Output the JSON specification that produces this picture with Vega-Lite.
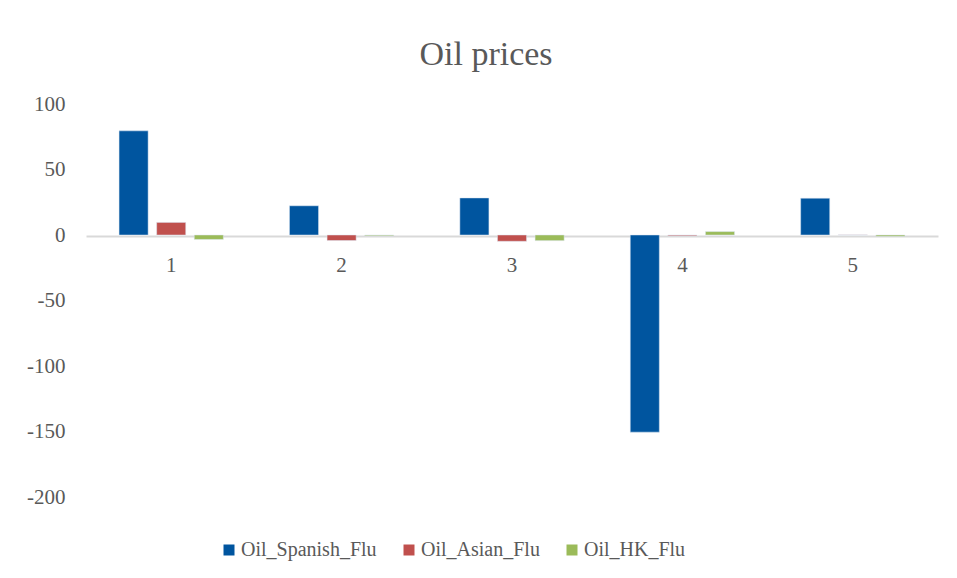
{
  "$schema": "https://vega.github.io/schema/vega-lite/v6.json",
  "autosize": "none",
  "width": 852,
  "height": 393,
  "padding": {"left": 86, "top": 104, "right": 19, "bottom": 81},
  "background": "white",
  "title": {
    "text": "Oil prices",
    "font": "Liberation Serif",
    "fontSize": 34,
    "fontWeight": "normal",
    "color": "#595959",
    "anchor": "middle",
    "baseline": "alphabetic",
    "offset": -6,
    "dx": -26
  },
  "data": {
    "values": [
      {"period": "1", "series": "Oil_Spanish_Flu", "value": 79.5},
      {"period": "1", "series": "Oil_Asian_Flu", "value": 9.6},
      {"period": "1", "series": "Oil_HK_Flu", "value": -3.4},
      {"period": "2", "series": "Oil_Spanish_Flu", "value": 22.3},
      {"period": "2", "series": "Oil_Asian_Flu", "value": -4.2},
      {"period": "2", "series": "Oil_HK_Flu", "value": -0.6},
      {"period": "3", "series": "Oil_Spanish_Flu", "value": 28.3},
      {"period": "3", "series": "Oil_Asian_Flu", "value": -4.8},
      {"period": "3", "series": "Oil_HK_Flu", "value": -4.3},
      {"period": "4", "series": "Oil_Spanish_Flu", "value": -150.5},
      {"period": "4", "series": "Oil_Asian_Flu", "value": -0.6},
      {"period": "4", "series": "Oil_HK_Flu", "value": 2.6},
      {"period": "5", "series": "Oil_Spanish_Flu", "value": 28.1},
      {"period": "5", "series": "Oil_Asian_Flu", "value": 0.1},
      {"period": "5", "series": "Oil_HK_Flu", "value": -1.0}
    ]
  },
  "layer": [
    {
      "mark": {"type": "bar", "stroke": "#dce6f2", "strokeWidth": 0.5},
      "encoding": {
        "x": {
          "field": "period",
          "type": "ordinal",
          "scale": {"paddingInner": 0.388, "paddingOuter": 0.194},
          "axis": {
            "title": null,
            "labelAngle": 0,
            "ticks": false,
            "offset": -261,
            "domainColor": "#d9d9d9",
            "domainWidth": 2,
            "labelPadding": 18,
            "labelFont": "Liberation Serif",
            "labelFontSize": 21,
            "labelColor": "#595959"
          }
        },
        "xOffset": {
          "field": "series",
          "type": "nominal",
          "sort": ["Oil_Spanish_Flu", "Oil_Asian_Flu", "Oil_HK_Flu"],
          "scale": {"paddingInner": 0.227, "paddingOuter": 0}
        },
        "y": {
          "field": "value",
          "type": "quantitative",
          "scale": {"domain": [-200, 100], "nice": false, "zero": true},
          "axis": {
            "title": null,
            "values": [-200, -150, -100, -50, 0, 50, 100],
            "labelExpr": "datum.value < 0 ? '-' + abs(datum.value) : '' + datum.value",
            "grid": false,
            "domain": false,
            "ticks": false,
            "labelPadding": 21,
            "labelFont": "Liberation Serif",
            "labelFontSize": 21,
            "labelColor": "#595959"
          }
        },
        "color": {
          "field": "series",
          "type": "nominal",
          "sort": ["Oil_Spanish_Flu", "Oil_Asian_Flu", "Oil_HK_Flu"],
          "scale": {
            "domain": ["Oil_Spanish_Flu", "Oil_Asian_Flu", "Oil_HK_Flu"],
            "range": ["#00559f", "#c0504d", "#9bbb59"]
          },
          "legend": {
            "title": null,
            "orient": "none",
            "direction": "horizontal",
            "legendX": 133,
            "legendY": 436,
            "symbolType": "square",
            "symbolSize": 121,
            "symbolStrokeWidth": 0,
            "labelFont": "Liberation Serif",
            "labelFontSize": 20,
            "labelColor": "#595959",
            "labelOffset": 2,
            "columnPadding": 22
          }
        }
      }
    }
  ],
  "config": {"view": {"stroke": null}}
}
